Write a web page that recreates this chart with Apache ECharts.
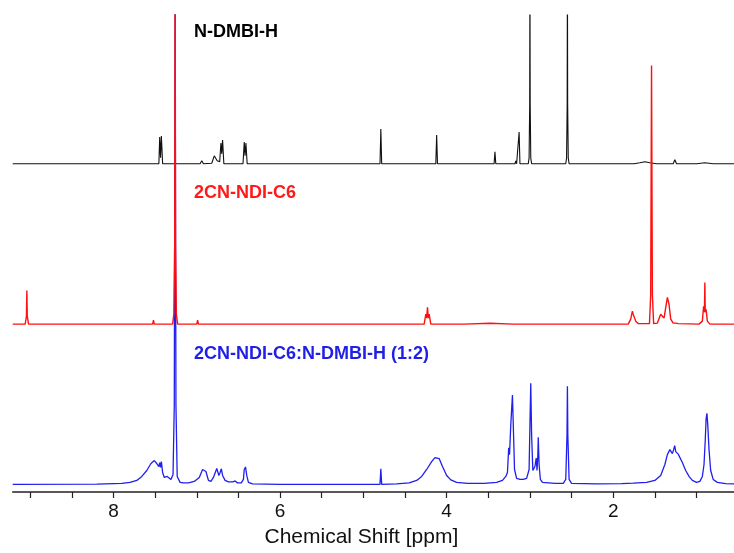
<!DOCTYPE html>
<html>
<head>
<meta charset="utf-8">
<script src="https://cdn.jsdelivr.net/npm/echarts@6/dist/echarts.min.js"></script>
<style>html,body{margin:0;padding:0;background:#fff}#c{width:734px;height:553px}</style>
</head>
<body>
<div id="c"></div>
<script>
// Chemical shift axis (ppm), drawn reversed
const shiftMin = 0.55;
const shiftMax = 9.21;
const tickValues = [1, 1.5, 2, 2.5, 3, 3.5, 4, 4.5, 5, 5.5, 6, 6.5, 7, 7.5, 8, 8.5, 9];
const labelValues = [2, 4, 6, 8];

const seriesNames = ['N-DMBI-H', '2CN-NDI-C6', '2CN-NDI-C6:N-DMBI-H (1:2)'];

// [ppm, intensity above own baseline]
const nDmbiH = [
  [9.21,0],
  [7.86,0],[7.84,2],[7.82,0],
  [7.78,0],[7.76,2],[7.74,0],
  [7.66,0],[7.64,2],[7.62,0],
  [7.455,0],[7.445,27],[7.435,6],[7.425,28],[7.41,0],
  [7.27,0],[7.25,1.2],[7.23,0],
  [7.12,0],[7.10,1],[7.08,0],
  [6.96,0],[6.94,3],[6.92,0],
  [6.82,0.5],[6.79,8],[6.775,9],[6.755,3],[6.725,2],[6.71,21],[6.70,10],[6.69,24],[6.675,0],
  [6.445,0],[6.43,22],[6.42,8],[6.41,21],[6.395,0],
  [4.80,0],[4.79,35],[4.78,0],
  [4.13,0],[4.12,29],[4.11,0],[4.06,0],[4.05,2],[4.04,0],
  [3.43,0],[3.42,12],[3.41,0],
  [3.26,0],[3.25,1],[3.24,0],
  [3.18,0],[3.17,3],[3.16,0],[3.14,0],[3.13,32],[3.12,0],
  [3.02,0],[3.01,6],[3.003,60],[3.0,200],[2.997,60],[2.99,6],[2.98,0],
  [2.91,0],[2.90,2],[2.89,0],[2.87,0],[2.86,2],[2.85,0],[2.83,0],[2.82,2],[2.81,0],
  [2.73,0],[2.72,1.5],[2.71,0],
  [2.57,0],[2.56,6],[2.553,60],[2.55,200],[2.547,60],[2.54,6],[2.53,0],
  [2.38,0],[2.36,1.5],[2.34,0],
  [1.75,0],[1.68,1],[1.62,2],[1.56,1],[1.48,0],
  [1.28,0],[1.26,4],[1.24,0],
  [1.0,0],[0.9,1],[0.8,0],
  [0.55,0]
];

const ndiC6 = [
  [9.21,0],
  [9.06,0],[9.045,8],[9.04,34],[9.035,8],[9.02,0],
  [7.53,0],[7.52,4],[7.51,0],
  [7.29,0],[7.275,10],[7.265,80],[7.26,400],[7.255,80],[7.245,10],[7.23,0],
  [7.00,0],[6.99,4],[6.98,0],
  [4.89,0],[4.87,1.5],[4.85,0],
  [4.27,0],[4.25,10],[4.24,6],[4.23,17],[4.22,6],[4.21,10],[4.19,0],
  [3.8,0],[3.48,0.8],[3.2,0],
  [2.18,0],[2.17,1],[2.16,0],
  [1.82,0],[1.79,5],[1.77,13],[1.76,10],[1.75,12],[1.73,3],[1.70,0.5],
  [1.565,0.5],[1.55,30],[1.54,260.7],[1.53,30],[1.515,0.5],
  [1.47,1],[1.43,10],[1.39,6],[1.35,27],[1.33,20],[1.31,5],[1.28,1],
  [1.25,1],[1.24,1.5],[1.22,0.5],
  [0.97,0],[0.93,3],[0.915,18],[0.905,12],[0.90,42],[0.895,12],[0.885,15],[0.87,3],[0.84,0],
  [0.55,0]
];

const mixture = [
  [9.21,0],[8.2,0.3],[7.9,1],[7.8,2],[7.72,4],[7.66,8],[7.6,14],[7.55,21],[7.51,24],[7.48,21],
  [7.455,18],[7.445,22],[7.435,17],[7.425,23],[7.41,12],[7.39,7],[7.37,6],[7.355,8],[7.34,6],[7.31,5],
  [7.285,10],[7.27,80],[7.26,480],[7.25,80],[7.235,8],[7.2,2],[7.16,1.5],[7.14,2.5],[7.1,1.5],
  [7.03,3],[6.97,7],[6.93,15],[6.91,17],[6.89,13],[6.86,4],[6.83,3],[6.80,7],[6.76,16],[6.75,17],
  [6.735,9],[6.72,12],[6.705,15.7],[6.69,9],[6.66,4],[6.62,2.5],[6.565,2.5],[6.54,3.5],[6.51,1.5],
  [6.465,1.5],[6.44,5],[6.43,15],[6.415,17.6],[6.40,9],[6.38,2],[6.33,0.5],[6.0,0],
  [4.8,0],[4.79,15.6],[4.78,0],
  [4.6,0.5],[4.45,1.5],[4.36,4],[4.3,8],[4.24,15],[4.18,23],[4.14,27],[4.12,28],[4.09,26],[4.05,18],
  [4.0,9],[3.95,4.5],[3.88,2],[3.75,1],[3.55,1],[3.4,2],[3.33,4],[3.29,8],[3.27,12],[3.255,37],
  [3.245,30],[3.23,60],[3.21,90],[3.20,60],[3.185,15],[3.16,6],[3.12,5],[3.08,5],[3.04,6],[3.01,15],
  [3.0,60],[2.99,102],[2.98,50],[2.965,14],[2.95,12],[2.94,18],[2.925,26.6],[2.915,14],[2.905,30],
  [2.90,47.6],[2.89,20],[2.875,5],[2.85,2],[2.7,1],[2.6,1],[2.57,5],[2.555,50],[2.55,99],[2.545,50],
  [2.53,5],[2.5,1],[2.2,0.5],[1.9,0.8],[1.76,1.2],[1.6,2],[1.5,4],[1.43,9],[1.38,20],[1.35,30],
  [1.32,35],[1.305,33],[1.29,31],[1.275,35],[1.262,39],[1.25,33],[1.235,31],[1.22,30.5],[1.2,29],
  [1.17,22],[1.13,14],[1.09,8],[1.05,4],[1.0,2],[0.96,3],[0.93,8],[0.91,20],[0.895,45],[0.885,66],
  [0.875,71.6],[0.865,60],[0.85,35],[0.83,14],[0.8,5],[0.75,2],[0.65,0.8],[0.55,0.5]
];

// vertical stacking offsets for each trace
const offsets = { black: 331, red: 169.3, blue: 7.7 };
const shift = (arr, off) => arr.map(p => [p[0], p[1] + off]);

const chart = echarts.init(document.getElementById('c'), null, { renderer: 'canvas' });
const labelFont = 'bold 18px "Liberation Sans", Arial, sans-serif';

chart.setOption({
  animation: false,
  backgroundColor: '#fff',
  grid: { left: 12.7, right: 0, top: 15, bottom: 57, containLabel: false },
  xAxis: {
    type: 'value',
    inverse: true,
    min: shiftMin,
    max: shiftMax,
    name: 'Chemical Shift [ppm]',
    nameLocation: 'middle',
    nameGap: 35,
    nameTextStyle: { fontFamily: '"Liberation Sans", Arial, sans-serif', fontSize: 21, color: '#111', padding: [0, 24, 0, 0] },
    axisLine: { onZero: false, lineStyle: { color: '#222', width: 1.5 } },
    axisTick: { show: true, inside: false, length: 6, customValues: tickValues, lineStyle: { color: '#222', width: 1.2 } },
    axisLabel: { customValues: labelValues, margin: 10, fontFamily: '"Liberation Sans", Arial, sans-serif', fontSize: 19, color: '#111' },
    splitLine: { show: false }
  },
  yAxis: {
    type: 'value', min: 0, max: 481, show: false
  },
  series: [
    { name: seriesNames[2], type: 'line', data: shift(mixture, offsets.blue), showSymbol: false, symbol: 'none',
      lineStyle: { color: '#1f1fee', width: 1.3 }, clip: true },
    { name: seriesNames[0], type: 'line', data: shift(nDmbiH, offsets.black), showSymbol: false, symbol: 'none',
      lineStyle: { color: '#111', width: 1.1 }, clip: true },
    { name: seriesNames[1], type: 'line', data: shift(ndiC6, offsets.red), showSymbol: false, symbol: 'none',
      lineStyle: { color: '#ff1010', width: 1.4 }, clip: true }
  ],
  graphic: [
    { type: 'text', x: 194, y: 31.7, style: { text: seriesNames[0], fill: '#000', font: labelFont, verticalAlign: 'middle' } },
    { type: 'text', x: 194, y: 192.7, style: { text: seriesNames[1], fill: '#ff1a1a', font: labelFont, verticalAlign: 'middle' } },
    { type: 'text', x: 194, y: 354, style: { text: seriesNames[2], fill: '#1f1fe6', font: labelFont, verticalAlign: 'middle' } }
  ]
});
</script>
</body>
</html>
